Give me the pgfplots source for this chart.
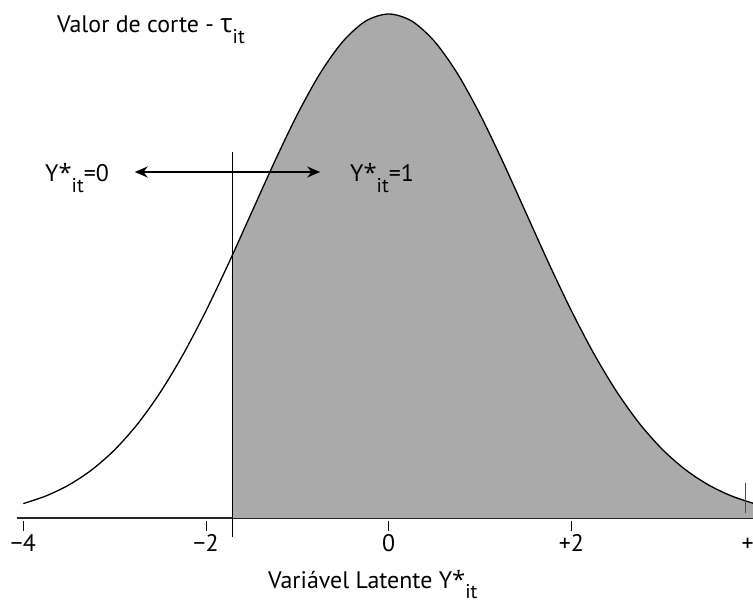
\documentclass[border=0pt]{standalone}
\usepackage{pgfplots}
\pgfplotsset{compat=1.18}
\usepackage{pgfplotstable}
\usepackage{fontspec}
\setmainfont{PT Sans}
\newfontfamily\grk{Open Sans}
\usetikzlibrary{arrows.meta}
\definecolor{areagray}{RGB}{170,170,170}

% latent density (scaled so the peak is 100)
\pgfplotstableread{
x y
-4.00 2.86
-3.75 4.39
-3.50 6.57
-3.25 9.56
-3.00 13.53
-2.75 18.63
-2.50 24.94
-2.25 32.47
-2.00 41.11
-1.75 50.63
-1.50 60.65
-1.25 70.66
-1.00 80.07
-0.75 88.25
-0.50 94.59
-0.25 98.62
0.00 100.00
0.25 98.62
0.50 94.59
0.75 88.25
1.00 80.07
1.25 70.66
1.50 60.65
1.75 50.63
2.00 41.11
2.25 32.47
2.50 24.94
2.75 18.63
3.00 13.53
3.25 9.56
3.50 6.57
3.75 4.39
4.00 2.86
}\density

% region above the cut-off value
\pgfplotstableread{
x y
-1.71 52.21
-1.50 60.65
-1.25 70.66
-1.00 80.07
-0.75 88.25
-0.50 94.59
-0.25 98.62
0.00 100.00
0.25 98.62
0.50 94.59
0.75 88.25
1.00 80.07
1.25 70.66
1.50 60.65
1.75 50.63
2.00 41.11
2.25 32.47
2.50 24.94
2.75 18.63
3.00 13.53
3.25 9.56
3.50 6.57
3.75 4.39
4.00 2.86
}\upper

\newcommand{\latsub}[1]{\raisebox{-0.42em}{\fontsize{20}{20}\selectfont #1}}
\newcommand{\latstar}{{\grk *}}

\begin{document}
\begin{tikzpicture}
\path[use as bounding box] (0,0) rectangle (753bp,602bp);
\begin{axis}[
  x=91.35bp, y=5.04bp,
  anchor=origin, at={(388.7bp,84bp)},
  xmin=-4.07, xmax=4.02, ymin=0, ymax=102,
  axis x line=bottom, axis y line=none,
  axis line style={-, line width=1.3bp, black!85},
  xtick={-4,-2,0,2,4},
  xticklabels={},
  tick align=outside,
  major tick length=10bp,
  xtick style={yshift=-3bp, line width=0.9bp, black},
  clip=false,
]
\addplot[draw=none, fill=areagray, smooth] table[x=x, y=y] {\upper} \closedcycle;
\addplot[smooth, line width=1.3bp, black] table[x=x, y=y] {\density};
\addplot[line width=1bp, black] coordinates {(-1.71,-3.77) (-1.71,72.6)};
\addplot[line width=0.8bp, black!70] coordinates {(3.91,1.0) (3.91,6.9)};
\addplot[{Stealth[length=13bp,width=11bp]}-{Stealth[length=13bp,width=11bp]}, line width=1.5bp, black]
  coordinates {(-2.78,68.65) (-0.75,68.65)};
\end{axis}
% tick labels under the axis (x = 388.7bp + 91.35bp per unit)
\begin{scope}[every node/.style={anchor=base, inner sep=0pt, font=\fontsize{24}{26}\selectfont}]
\node at (23.3bp,50bp) {−4};
\node at (206.0bp,50bp) {−2};
\node at (388.7bp,50bp) {0};
\node at (571.4bp,50bp) {+2};
\node at (754.1bp,50bp) {+4};
\end{scope}
\node[anchor=base west, inner sep=0pt, font=\fontsize{24}{28}\selectfont] at (57bp,569bp)
  {Valor de corte - {\grk\fontsize{26}{28}\selectfont τ}\latsub{it}};
\node[anchor=base west, inner sep=0pt, font=\fontsize{24}{28}\selectfont] at (45bp,420bp)
  {Y\latstar\latsub{it}=0};
\node[anchor=base west, inner sep=0pt, font=\fontsize{24}{28}\selectfont] at (350bp,420bp)
  {Y\latstar\latsub{it}=1};
\node[anchor=base west, inner sep=0pt, font=\fontsize{24}{28}\selectfont] at (268bp,14bp)
  {Variável Latente Y\latstar\latsub{it}};
\end{tikzpicture}
\end{document}
